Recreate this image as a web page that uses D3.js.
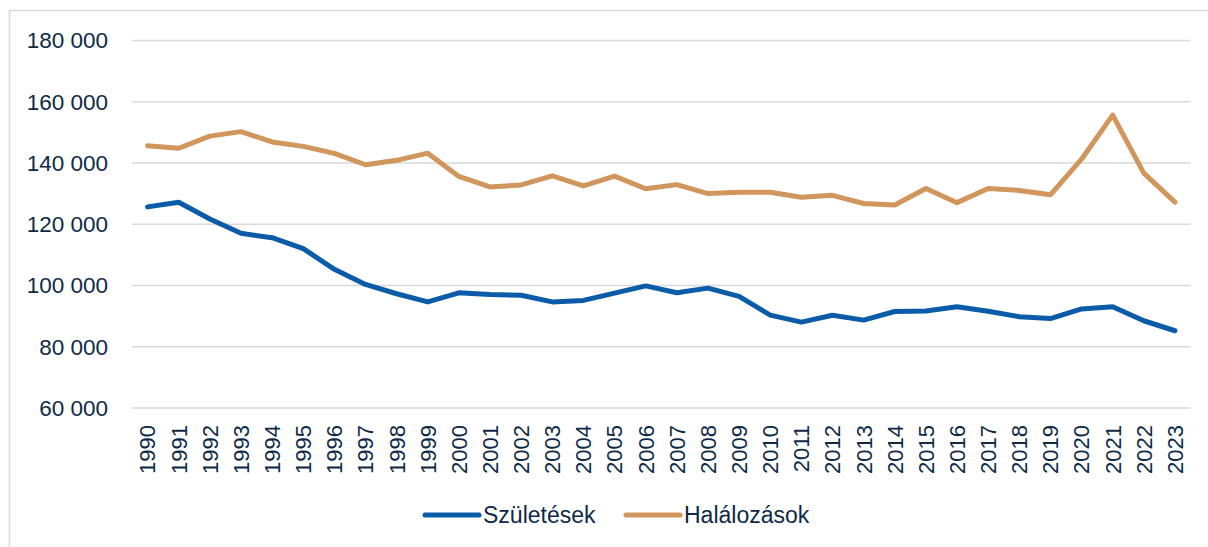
<!DOCTYPE html>
<html>
<head>
<meta charset="utf-8">
<script src="https://cdn.jsdelivr.net/npm/d3@7"></script>
<style>
  html, body { margin: 0; padding: 0; background: #fff; }
  svg { display: block; }
  text { font-family: "Liberation Sans", Arial, sans-serif; fill: #0e2a47; }
</style>
</head>
<body>
<svg id="chart"></svg>
<script>
const years = d3.range(1990, 2024);
const births = [125679, 127207, 121724, 117033, 115598, 112054, 105272, 100350, 97301, 94645,
  97597, 97047, 96804, 94647, 95137, 97496, 99871, 97613, 99149, 96442,
  90335, 88049, 90269, 88689, 91510, 91690, 93063, 91577, 89807, 89193,
  92338, 93039, 88491, 85226];
const deaths = [145660, 144813, 148781, 150244, 146889, 145431, 143130, 139434, 140870, 143210,
  135601, 132183, 132833, 135823, 132492, 135732, 131603, 132938, 130027, 130414,
  130456, 128795, 129440, 126778, 126308, 131697, 127053, 131674, 131045, 129603,
  141237, 155644, 136676, 127200];
const yTicks = [60000, 80000, 100000, 120000, 140000, 160000, 180000];
const seriesNames = ["Születések", "Halálozások"];
const seriesColors = ["#0b5ca8", "#d1965c"];

(function () {
  const W = 1208, H = 547;
  const svg = d3.select("#chart").attr("width", W).attr("height", H);

  // outer frame
  svg.append("rect")
    .attr("x", 9.5).attr("y", 10.5)
    .attr("width", W + 10).attr("height", H + 10)
    .attr("fill", "none").attr("stroke", "#d9d9d9").attr("stroke-width", 1.5);

  const x = d3.scalePoint().domain(years).range([132, 1190.5]).padding(0.5);
  const y = d3.scaleLinear().domain([60000, 180000]).range([408, 40.5]);

  const fmt = v => d3.format(",")(v).replace(/,/g, " ");

  // gridlines
  svg.append("g").selectAll("line")
    .data(yTicks).enter().append("line")
    .attr("x1", 132).attr("x2", 1190.5)
    .attr("y1", d => y(d)).attr("y2", d => y(d))
    .attr("stroke", "#d9d9d9").attr("stroke-width", 1.5);

  // y labels
  svg.append("g").selectAll("text")
    .data(yTicks).enter().append("text")
    .attr("x", 108).attr("y", d => y(d))
    .attr("dy", "0.35em")
    .attr("text-anchor", "end")
    .style("font-size", "22.5px")
    .text(fmt);

  // x labels
  svg.append("g").selectAll("text")
    .data(years).enter().append("text")
    .attr("transform", d => `translate(${x(d)},425) rotate(-90)`)
    .attr("dy", "0.36em")
    .attr("text-anchor", "end")
    .style("font-size", "22px")
    .text(d => d);

  const line = d3.line()
    .x((d, i) => x(years[i]))
    .y(d => y(d));

  [births, deaths].forEach((s, i) => {
    svg.append("path")
      .datum(s)
      .attr("d", line)
      .attr("fill", "none")
      .attr("stroke", seriesColors[i])
      .attr("stroke-width", 5)
      .attr("stroke-linejoin", "round")
      .attr("stroke-linecap", "round");
  });

  // legend
  const legendX = [425, 626];
  const legend = svg.append("g");
  seriesNames.forEach((name, i) => {
    legend.append("line")
      .attr("x1", legendX[i]).attr("x2", legendX[i] + 54)
      .attr("y1", 515).attr("y2", 515)
      .attr("stroke", seriesColors[i])
      .attr("stroke-width", 5)
      .attr("stroke-linecap", "round");
    legend.append("text")
      .attr("x", legendX[i] + 58).attr("y", 515)
      .attr("dy", "0.35em")
      .style("font-size", "23px")
      .text(name);
  });
})();
</script>
</body>
</html>
